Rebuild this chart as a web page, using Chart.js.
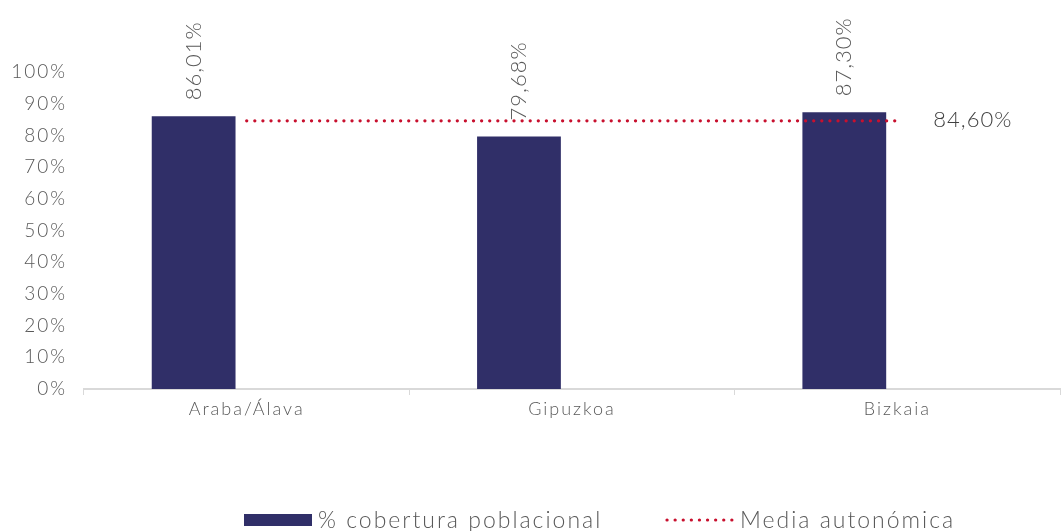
<!DOCTYPE html>
<html>
<head>
<meta charset="utf-8">
<script src="https://cdn.jsdelivr.net/npm/chart.js@4/dist/chart.umd.min.js"></script>
<style>
  html, body { margin: 0; padding: 0; background: #fff; }
  #wrap { width: 1061px; height: 531px; }
</style>
</head>
<body>
<div id="wrap"><canvas id="cobertura"></canvas></div>
<script>
const territorios = ["Araba/Álava", "Gipuzkoa", "Bizkaia"];
const cobertura = [86.01, 79.68, 87.30];
const mediaAutonomica = [84.60, 84.60, 84.60];
const yTicks = [0, 10, 20, 30, 40, 50, 60, 70, 80, 90, 100];

const FONT = "Lato, 'Open Sans', sans-serif";
const BAR_COLOR = "#302f68";
const LINE_COLOR = "#c8102e";

const fmt = (v) => v.toFixed(2).replace(".", ",") + "%";

// wide tracking for every piece of text on the canvas
const spacingPlugin = {
  id: "spacingPlugin",
  beforeLayout(chart) { chart.ctx.letterSpacing = "2px"; },
  beforeDraw(chart) { chart.ctx.letterSpacing = "2px"; }
};

// value labels above bars + label for the regional mean, plus a hand-drawn legend
const labelsPlugin = {
  id: "labelsPlugin",
  afterDatasetsDraw(chart) {
    const ctx = chart.ctx;
    const barMeta = chart.getDatasetMeta(0);
    ctx.save();
    ctx.fillStyle = "#595959";
    ctx.font = "300 22px " + FONT;
    ctx.letterSpacing = "1px";
    ctx.textAlign = "left";
    ctx.textBaseline = "middle";
    barMeta.data.forEach((bar, i) => {
      ctx.save();
      ctx.translate(bar.x, bar.y - 16);
      ctx.rotate(-Math.PI / 2);
      ctx.fillText(fmt(cobertura[i]), 0, 0);
      ctx.restore();
    });

    const lineMeta = chart.getDatasetMeta(1);
    const last = lineMeta.data[lineMeta.data.length - 1];
    ctx.fillStyle = "#404040";
    ctx.fillText(fmt(mediaAutonomica[mediaAutonomica.length - 1]), last.x + 36, last.y - 1);

    // legend
    const ly = 520;
    ctx.fillStyle = BAR_COLOR;
    ctx.fillRect(244, ly - 6, 68, 12);
    ctx.fillStyle = "#595959";
    ctx.font = "300 23px " + FONT;
    ctx.letterSpacing = "2px";
    ctx.fillText("% cobertura poblacional", 318, ly + 1);

    ctx.strokeStyle = LINE_COLOR;
    ctx.lineWidth = 3.2;
    ctx.lineCap = "round";
    ctx.setLineDash([0.1, 8]);
    ctx.beginPath();
    ctx.moveTo(667, ly);
    ctx.lineTo(733, ly);
    ctx.stroke();
    ctx.setLineDash([]);
    ctx.fillText("Media autonómica", 740, ly + 1);
    ctx.restore();
  }
};

new Chart(document.getElementById("cobertura"), {
  type: "bar",
  data: {
    labels: territorios,
    datasets: [
      {
        label: "% cobertura poblacional",
        data: cobertura,
        backgroundColor: BAR_COLOR,
        categoryPercentage: 0.652,
        barPercentage: 0.79,
        order: 2
      },
      {
        type: "line",
        label: "Media autonómica",
        data: mediaAutonomica,
        borderColor: LINE_COLOR,
        borderWidth: 3.2,
        borderCapStyle: "round",
        borderDash: [0.1, 8],
        pointRadius: 0,
        fill: false,
        order: 1
      },
      {
        // empty slot so the bars sit left of the category centre
        label: "",
        data: [null, null, null],
        backgroundColor: "transparent",
        categoryPercentage: 0.652,
        barPercentage: 0.79,
        order: 3
      }
    ]
  },
  options: {
    responsive: true,
    maintainAspectRatio: false,
    animation: false,
    layout: { padding: { top: 72, right: 1, bottom: 0, left: 0 } },
    plugins: {
      legend: { display: false },
      tooltip: { enabled: false }
    },
    scales: {
      x: {
        grid: {
          display: true,
          drawOnChartArea: false,
          offset: true,
          tickLength: 6,
          color: "#d9d9d9"
        },
        border: { display: true, color: "#d9d9d9", width: 2 },
        ticks: {
          color: "#595959",
          font: { family: FONT, size: 18, weight: 300 },
          padding: 3
        },
        afterFit: (s) => { s.height = 142; }
      },
      y: {
        min: 0,
        max: 100,
        grid: { display: false },
        border: { display: false },
        afterBuildTicks: (s) => { s.ticks = yTicks.map((v) => ({ value: v })); },
        ticks: {
          color: "#595959",
          font: { family: FONT, size: 19, weight: 300 },
          padding: 9,
          callback: (v) => v + "%"
        },
        afterFit: (s) => { s.width = 84; }
      }
    }
  },
  plugins: [spacingPlugin, labelsPlugin]
});
</script>
</body>
</html>
